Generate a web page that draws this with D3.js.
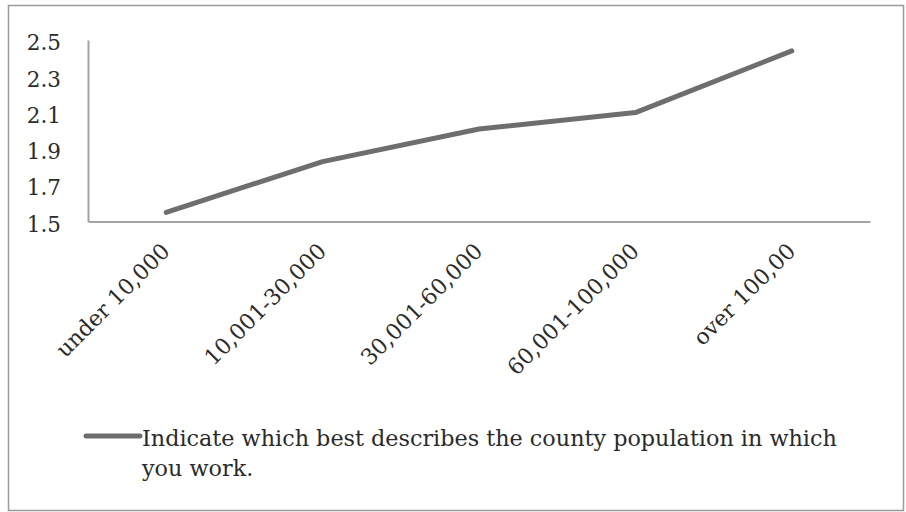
<!DOCTYPE html>
<html>
<head>
<meta charset="utf-8">
<script src="https://cdn.jsdelivr.net/npm/d3@7"></script>
<style>
  html, body { margin: 0; padding: 0; background: #fff; }
  svg { display: block; }
  text { font-family: "DejaVu Serif", "Liberation Serif", serif; fill: #2b2b2b; }
</style>
</head>
<body>
<svg id="chart" width="906" height="512"></svg>
<script>
// County population bands and mean response per band
const categories = ["under 10,000", "10,001-30,000", "30,001-60,000", "60,001-100,000", "over 100,00"];
const values = [1.55, 1.83, 2.01, 2.10, 2.44];
const yTicks = [1.5, 1.7, 1.9, 2.1, 2.3, 2.5];
const seriesName = ["Indicate which best describes the county population in which", "you work."];

const svg = d3.select("#chart");

// outer frame
svg.append("rect")
  .attr("x", 8.5).attr("y", 5.5)
  .attr("width", 895).attr("height", 505)
  .attr("fill", "#fff")
  .attr("stroke", "#9a9a9a")
  .attr("stroke-width", 1.5);

const plot = { left: 88, right: 870, top: 40, bottom: 221.5 };

const x = d3.scaleBand()
  .domain(categories)
  .range([plot.left, plot.right]);

const y = d3.scaleLinear()
  .domain([1.5, 2.5])
  .range([plot.bottom, plot.top]);

// y axis (no tick marks)
const yAxis = d3.axisLeft(y)
  .tickValues(yTicks)
  .tickFormat(d3.format(".1f"))
  .tickSize(0)
  .tickPadding(0);

const gy = svg.append("g")
  .attr("transform", `translate(${plot.left},0)`)
  .call(yAxis);
gy.select(".domain").attr("stroke", "#a3a3a3").attr("stroke-width", 2);
gy.selectAll("text")
  .attr("x", -27)
  .attr("dy", "0.36em")
  .attr("text-anchor", "end")
  .style("font-size", "21.5px")
  .attr("transform", "translate(0,2)");

// x axis
const xAxis = d3.axisBottom(x).tickSize(0).tickPadding(0);
const gx = svg.append("g")
  .attr("transform", `translate(0,${plot.bottom})`)
  .call(xAxis);
gx.select(".domain").attr("stroke", "#a3a3a3").attr("stroke-width", 2);
gx.selectAll(".tick text")
  .attr("y", 0)
  .attr("dy", 0)
  .attr("text-anchor", "end")
  .style("font-size", "22px")
  .attr("transform", "translate(5,31) rotate(-45)");

// series line
const line = d3.line()
  .x((d, i) => x(categories[i]) + x.bandwidth() / 2)
  .y(d => y(d));

svg.append("path")
  .datum(values)
  .attr("d", line)
  .attr("fill", "none")
  .attr("stroke", "#6e6e6e")
  .attr("stroke-width", 5)
  .attr("stroke-linecap", "round")
  .attr("stroke-linejoin", "round");

// legend
const lg = svg.append("g");
lg.append("line")
  .attr("x1", 86).attr("x2", 140)
  .attr("y1", 436).attr("y2", 436)
  .attr("stroke", "#6e6e6e")
  .attr("stroke-width", 5)
  .attr("stroke-linecap", "round");
lg.selectAll("text.leg")
  .data(seriesName)
  .join("text")
  .attr("class", "leg")
  .attr("x", 142)
  .attr("y", (d, i) => 446 + i * 30)
  .style("font-size", "22.3px")
  .text(d => d);
</script>
</body>
</html>
